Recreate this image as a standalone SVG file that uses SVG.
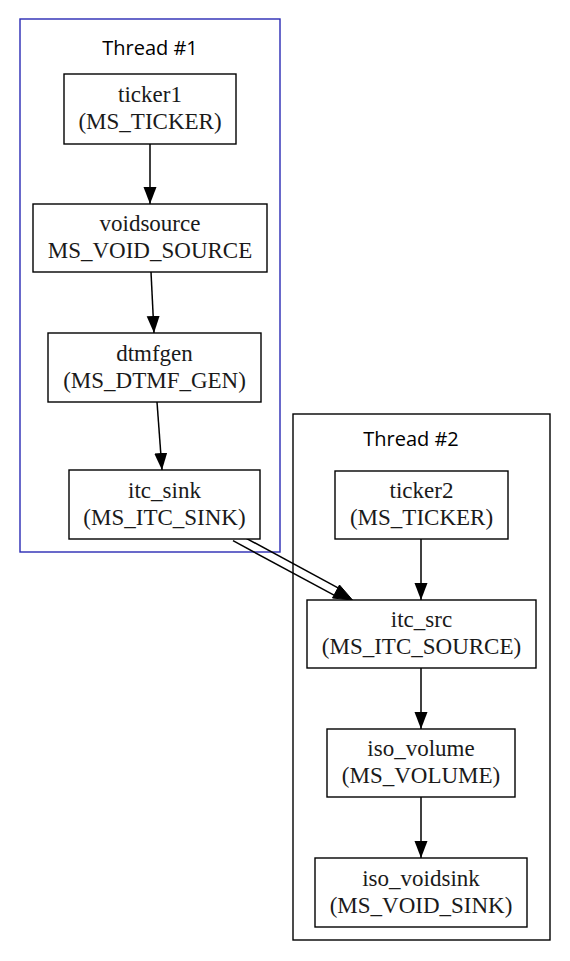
<svg xmlns="http://www.w3.org/2000/svg" width="570" height="961" viewBox="0 0 570 961">
<style>
.bg{fill:#ffffff}
.cl1{fill:none;stroke:#2a2ab4;stroke-width:1.4}
.cl2{fill:none;stroke:#000000;stroke-width:1.4}
.ct{font-family:"Open Sans","DejaVu Sans",sans-serif;font-size:20px;fill:#000000;text-anchor:middle}
.nb{fill:#ffffff;stroke:#000000;stroke-width:1.4}
.nt{font-family:"Liberation Serif","Times New Roman",serif;font-size:23px;fill:#1a1a1a;text-anchor:middle}
.e{fill:none;stroke:#000000;stroke-width:1.5}
.ah{fill:#000000;stroke:#000000;stroke-width:1}
</style>
<defs>
<marker id="arr" markerUnits="userSpaceOnUse" markerWidth="18" markerHeight="14" refX="17" refY="6.5" orient="auto">
<path d="M0,0 L17,6.5 L0,13 z" fill="#000000"/>
</marker>
</defs>
<rect class="bg" x="0" y="0" width="570" height="961"/>
<g id="cluster_thread1">
<rect class="cl1" x="20" y="19" width="260" height="533"/>
<text class="ct" x="150" y="55">Thread #1</text>
</g>
<g id="cluster_thread2">
<rect class="cl2" x="293" y="414" width="257" height="526"/>
<text class="ct" x="411" y="446">Thread #2</text>
</g>
<g id="connectors">
<line class="e" x1="150" y1="144" x2="150" y2="204" marker-end="url(#arr)"/>
<line class="e" x1="151" y1="272" x2="154" y2="333" marker-end="url(#arr)"/>
<line class="e" x1="157" y1="402" x2="162" y2="470" marker-end="url(#arr)"/>
<line class="e" x1="421" y1="539" x2="421" y2="600" marker-end="url(#arr)"/>
<line class="e" x1="421" y1="668" x2="421" y2="729" marker-end="url(#arr)"/>
<line class="e" x1="421" y1="797" x2="421" y2="858" marker-end="url(#arr)"/>
<g id="edge_itc">
<line class="e" x1="237" y1="533.3" x2="338" y2="587.8"/>
<line class="e" x1="233" y1="540.7" x2="334" y2="595.2"/>
<polygon class="ah" points="339.5,585 352.5,600 332.5,598"/>
</g>
</g>
<g id="ticker1">
<rect class="nb" x="64" y="74" width="172" height="70"/>
<text class="nt" x="150" y="102">ticker1</text>
<text class="nt" x="150" y="129">(MS_TICKER)</text>
</g>
<g id="voidsource">
<rect class="nb" x="33" y="204" width="234" height="68"/>
<text class="nt" x="150" y="231">voidsource</text>
<text class="nt" x="150" y="258">MS_VOID_SOURCE</text>
</g>
<g id="dtmfgen">
<rect class="nb" x="48" y="333" width="213" height="69"/>
<text class="nt" x="154.5" y="360.5">dtmfgen</text>
<text class="nt" x="154.5" y="387.5">(MS_DTMF_GEN)</text>
</g>
<g id="itc_sink">
<rect class="nb" x="69" y="470" width="191" height="69"/>
<text class="nt" x="164.5" y="497.5">itc_sink</text>
<text class="nt" x="164.5" y="524.5">(MS_ITC_SINK)</text>
</g>
<g id="ticker2">
<rect class="nb" x="335" y="471" width="173" height="68"/>
<text class="nt" x="421.5" y="498">ticker2</text>
<text class="nt" x="421.5" y="525">(MS_TICKER)</text>
</g>
<g id="itc_src">
<rect class="nb" x="307" y="600" width="229" height="68"/>
<text class="nt" x="421.5" y="627">itc_src</text>
<text class="nt" x="421.5" y="654">(MS_ITC_SOURCE)</text>
</g>
<g id="iso_volume">
<rect class="nb" x="327" y="729" width="188" height="68"/>
<text class="nt" x="421" y="756">iso_volume</text>
<text class="nt" x="421" y="783">(MS_VOLUME)</text>
</g>
<g id="iso_voidsink">
<rect class="nb" x="315" y="858" width="212" height="69"/>
<text class="nt" x="421" y="885.5">iso_voidsink</text>
<text class="nt" x="421" y="912.5">(MS_VOID_SINK)</text>
</g>
</svg>
